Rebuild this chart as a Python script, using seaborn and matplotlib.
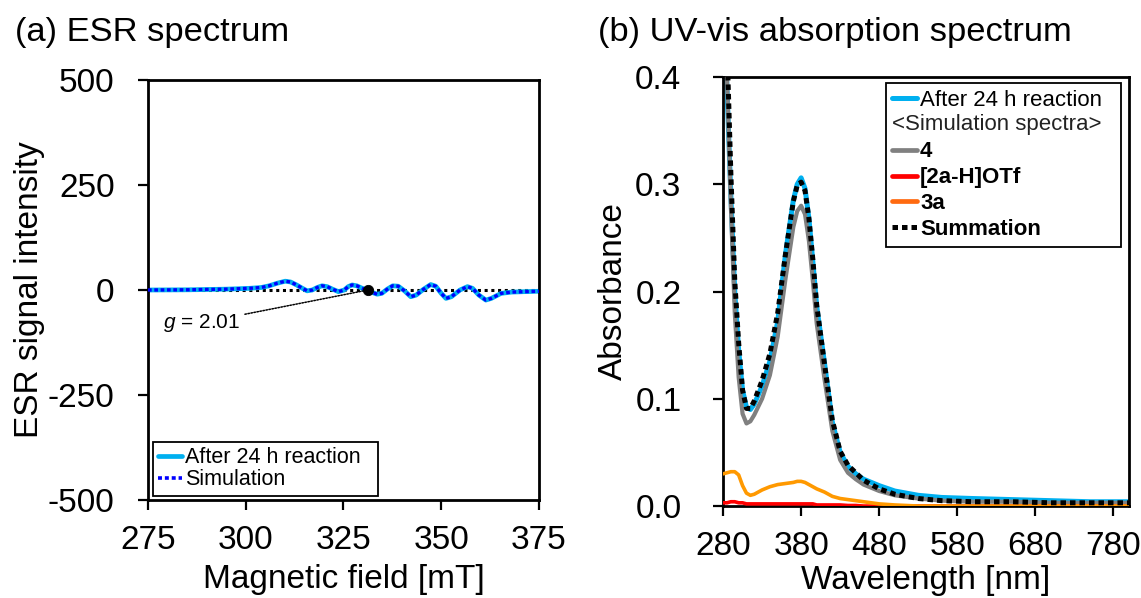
import matplotlib
matplotlib.use("Agg")
import matplotlib.pyplot as plt
import seaborn as sns
from matplotlib.lines import Line2D
from matplotlib.legend_handler import HandlerBase
from matplotlib.text import Text

# ---------------- data ----------------
# (a) ESR spectrum: magnetic field [mT] vs signal intensity
esr_field = [275, 285, 295, 301, 304, 306, 308, 310.1, 311.5, 313, 314.5,
             315.7, 317, 318.3, 319.5, 320.8, 322.2, 323.7, 325.2, 326.2,
             327.2, 328.4, 329.8, 331.1, 332.4, 333.6, 334.8, 336.2, 337.6,
             339, 340.6, 342.2, 343.6, 345.5, 347.3, 348.6, 350, 351.2, 352.6,
             354.8, 356.7, 358, 359.6, 361.4, 362.8, 365.3, 368, 371.2, 375]
esr_observed = [0, 0.5, 2, 4, 6, 10, 16, 21, 19, 12, 4,
                -2, 0, 6, 10, 8, 2, -4, 0, 8,
                12, 10, 4, 0, -6, -10, -8, 2, 10,
                9, -2, -16, -12, 2, 13, 9, -8, -20, -16,
                0, 8, 4, -12, -24, -20, -8, -5, -4, -3]
esr_simulation = [0, 0.5, 2, 4, 6, 10, 16, 21, 19, 12, 4,
                  -2, 0, 6, 10, 8, 2, -4, 0, 8,
                  12, 10, 4, 0, -6, -10, -8, 2, 10,
                  9, -2, -16, -12, 2, 13, 9, -8, -20, -16,
                  0, 8, 4, -12, -24, -20, -8, -5, -4, -3]
g_field = 331.2
g_intensity = 0
g_label = "$g$ = 2.01"

esr_xticks = [275, 300, 325, 350, 375]
esr_yticks = [-500, -250, 0, 250, 500]

# (b) UV-vis absorption spectrum: wavelength [nm] vs absorbance
wavelength = [280, 285, 290, 295, 300, 305, 310, 315, 320, 330, 340, 350, 360,
              370, 375, 380, 385, 390, 395, 400, 410, 420, 430, 440, 450, 460,
              480, 500, 530, 560, 600, 650, 700, 750, 800]
abs_after_24h = [0.48, 0.39, 0.29, 0.20, 0.145, 0.108, 0.092, 0.090, 0.095,
                 0.112, 0.135, 0.172, 0.235, 0.285, 0.300, 0.306, 0.296, 0.268,
                 0.228, 0.186, 0.133, 0.078, 0.050, 0.037, 0.030, 0.025, 0.019,
                 0.014, 0.010, 0.008, 0.007, 0.006, 0.005, 0.004, 0.004]
abs_4 = [0.50, 0.40, 0.28, 0.18, 0.12, 0.086, 0.077, 0.079, 0.085,
         0.100, 0.122, 0.158, 0.212, 0.260, 0.275, 0.280, 0.272, 0.247,
         0.210, 0.170, 0.118, 0.070, 0.043, 0.031, 0.025, 0.020, 0.014,
         0.010, 0.007, 0.005, 0.004, 0.004, 0.003, 0.003, 0.003]
abs_2aH_OTf = [0.003, 0.003, 0.004, 0.004, 0.003, 0.003, 0.002, 0.002, 0.002,
               0.002, 0.002, 0.002, 0.002, 0.002, 0.002, 0.002, 0.002, 0.002,
               0.002, 0.001, 0.001, 0.001, 0.001, 0.0005, 0.0005, 0.0, 0.0,
               0.0, 0.0, 0.0, 0.0, 0.0, 0.0, 0.0, 0.0]
abs_3a = [0.030, 0.031, 0.032, 0.032, 0.029, 0.019, 0.012, 0.010, 0.011,
          0.015, 0.018, 0.020, 0.021, 0.022, 0.023, 0.023, 0.022, 0.020,
          0.018, 0.016, 0.013, 0.009, 0.007, 0.006, 0.005, 0.004, 0.002,
          0.001, 0.0, 0.0, 0.0, 0.0, 0.0, 0.0, 0.0]
abs_summation = [0.53, 0.43, 0.31, 0.21, 0.152, 0.108, 0.091, 0.091, 0.098,
                 0.117, 0.142, 0.180, 0.235, 0.284, 0.299, 0.302, 0.294, 0.268,
                 0.230, 0.187, 0.132, 0.080, 0.051, 0.038, 0.031, 0.024, 0.016,
                 0.011, 0.007, 0.005, 0.004, 0.004, 0.003, 0.003, 0.003]

uv_xticks = [280, 380, 480, 580, 680, 780]
uv_yticks = [0.0, 0.1, 0.2, 0.3, 0.4]

# ---------------- style ----------------
sns.set_style("ticks")
plt.rcParams["font.family"] = ["Liberation Sans", "DejaVu Sans"]
plt.rcParams["mathtext.fontset"] = "custom"
plt.rcParams["mathtext.rm"] = "Liberation Sans"
plt.rcParams["mathtext.it"] = "Liberation Sans:italic"
plt.rcParams["axes.unicode_minus"] = False
for key in ("text.color", "axes.labelcolor", "xtick.color", "ytick.color",
            "axes.edgecolor"):
    plt.rcParams[key] = "black"
plt.rcParams["lines.solid_joinstyle"] = "round"

C_OBS = "#00B0F0"
C_SIM = "#0000FF"
C_GRAY = "#808080"
C_RED = "#FF0000"
C_ORANGE = "#FF9900"
DOTS = (0, (1.1, 0.8))

TICK_FS = 24
TITLE_FS = 24.8
LEG_FS = 16

fig = plt.figure(figsize=(11.41, 5.98), dpi=100)
ax1 = fig.add_axes([0.1297, 0.1639, 0.3427, 0.7023])
ax2 = fig.add_axes([0.6337, 0.1538, 0.3558, 0.7174])


def style_axes(ax, ypad):
    for sp in ax.spines.values():
        sp.set_visible(True)
        sp.set_linewidth(2.0)
        sp.set_color("black")
    ax.tick_params(direction="out", length=7, width=1.6, labelsize=TICK_FS,
                   colors="black", top=False, right=False)
    ax.tick_params(axis="y", pad=ypad)
    ax.tick_params(axis="x", pad=11)


# ---------------- (a) ESR ----------------
ax1.axhline(0, color="black", lw=2.2, linestyle=(0, (1, 1.2)), zorder=1)
sns.lineplot(x=esr_field, y=esr_observed, ax=ax1, color=C_OBS, linewidth=3.4,
             estimator=None, sort=False, zorder=2)
sns.lineplot(x=esr_field, y=esr_simulation, ax=ax1, color=C_SIM, linewidth=2.4,
             linestyle=DOTS, estimator=None, sort=False, zorder=3)
sns.scatterplot(x=[g_field], y=[g_intensity], ax=ax1, color="black", s=55,
                edgecolor="black", zorder=4)
ax1.annotate(g_label, xy=(g_field, g_intensity), xytext=(298.6, -78),
             fontsize=15, ha="right", va="center",
             arrowprops=dict(arrowstyle="-", linestyle=(0, (1, 1)), lw=1.1,
                             color="black", shrinkA=1, shrinkB=0))
ax1.set_xlim(275, 375)
ax1.set_ylim(-500, 500)
ax1.set_xticks(esr_xticks)
ax1.set_yticks(esr_yticks)
style_axes(ax1, ypad=17)
ax1.set_xlabel("Magnetic field [mT]", fontsize=TICK_FS)
ax1.set_ylabel("ESR signal intensity", fontsize=TICK_FS)
ax1.xaxis.set_label_coords(0.5, -0.152)
ax1.yaxis.set_label_coords(-0.263, 0.5)

leg1 = ax1.legend(
    handles=[Line2D([], [], color=C_OBS, lw=3.4),
             Line2D([], [], color=C_SIM, lw=2.6, linestyle=DOTS)],
    labels=["After 24 h reaction  ", "Simulation"],
    loc="lower left", bbox_to_anchor=(0.013, 0.01), borderaxespad=0,
    fontsize=15.5, handlelength=1.1, handletextpad=0.15, labelspacing=0.05,
    borderpad=0.25, fancybox=False, framealpha=1, edgecolor="black")
leg1.get_frame().set_linewidth(1.3)


# ---------------- (b) UV-vis ----------------
class SectionHeading:
    def __init__(self, text):
        self.text = text


class SectionHeadingHandler(HandlerBase):
    def create_artists(self, legend, orig_handle, xdescent, ydescent, width,
                       height, fontsize, trans):
        t = Text(-xdescent, -ydescent + height / 2 - 0.5, orig_handle.text,
                 ha="left", va="center", fontsize=fontsize, transform=trans,
                 color="#222222")
        return [t]


sns.lineplot(x=wavelength, y=abs_after_24h, ax=ax2, color=C_OBS, linewidth=3.6,
             estimator=None, sort=False, zorder=2)
sns.lineplot(x=wavelength, y=abs_4, ax=ax2, color=C_GRAY, linewidth=3.0,
             estimator=None, sort=False, zorder=3)
sns.lineplot(x=wavelength, y=abs_2aH_OTf, ax=ax2, color=C_RED, linewidth=2.6,
             estimator=None, sort=False, zorder=4)
sns.lineplot(x=wavelength, y=abs_3a, ax=ax2, color=C_ORANGE, linewidth=2.6,
             estimator=None, sort=False, zorder=4)
sns.lineplot(x=wavelength, y=abs_summation, ax=ax2, color="black", linewidth=3.6,
             linestyle=DOTS, estimator=None, sort=False, zorder=5)
ax2.set_xlim(280, 800)
ax2.set_ylim(0, 0.4)
ax2.set_xticks(uv_xticks)
ax2.set_yticks(uv_yticks)
ax2.set_yticklabels([f"{v:.1f}" for v in uv_yticks])
style_axes(ax2, ypad=23)
ax2.set_xlabel("Wavelength [nm]", fontsize=TICK_FS)
ax2.set_ylabel("Absorbance", fontsize=TICK_FS)
ax2.xaxis.set_label_coords(0.5, -0.137)
ax2.yaxis.set_label_coords(-0.2315, 0.5)

heading = SectionHeading("<Simulation spectra>")
leg2 = ax2.legend(
    handles=[Line2D([], [], color=C_OBS, lw=3.6), heading,
             Line2D([], [], color=C_GRAY, lw=3.4),
             Line2D([], [], color=C_RED, lw=3.4),
             Line2D([], [], color="#FF6A10", lw=3.4),
             Line2D([], [], color="black", lw=3.6, linestyle=DOTS)],
    labels=["After 24 h reaction  ", "", "4", "[2a-H]OTf", "3a", "Summation"],
    handler_map={SectionHeading: SectionHeadingHandler()},
    loc="upper right", bbox_to_anchor=(0.98, 0.986), borderaxespad=0,
    fontsize=LEG_FS, handlelength=1.1, handletextpad=0.15, labelspacing=0.22,
    borderpad=0.3, fancybox=False, framealpha=1, edgecolor="black")
leg2.get_frame().set_linewidth(1.3)
for t in leg2.get_texts()[2:]:
    t.set_fontweight("bold")

# ---------------- panel titles ----------------
fig.text(15 / 1141, 1 - 33 / 598, "(a) ESR spectrum", fontsize=TITLE_FS,
         va="center", ha="left")
fig.text(598 / 1141, 1 - 33 / 598, "(b) UV-vis absorption spectrum",
         fontsize=TITLE_FS, va="center", ha="left")

fig.savefig("out.png", dpi=100)
